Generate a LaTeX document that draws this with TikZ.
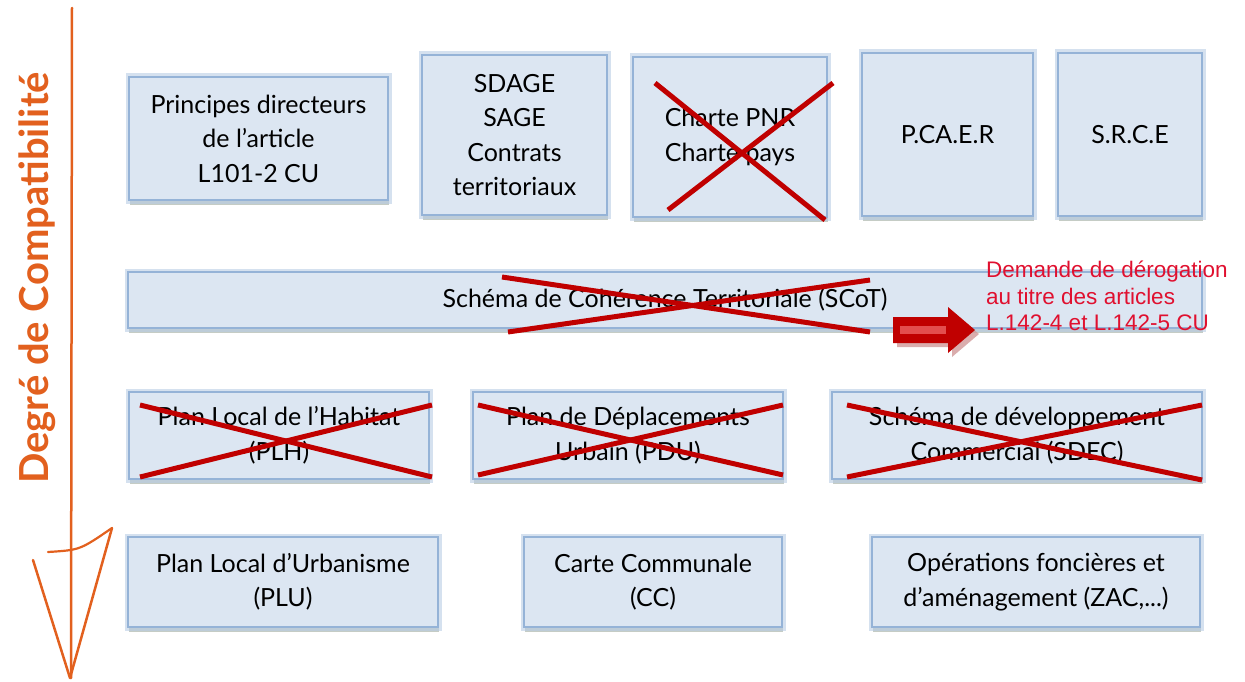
\documentclass[tikz,border=0pt]{standalone}
\usepackage{fontspec}
\setmainfont{Lato}
\newfontfamily\redfont{Liberation Sans}
\usetikzlibrary{shadows}
\definecolor{boxfill}{HTML}{DCE6F2}
\definecolor{bordc}{HTML}{95B3D7}
\definecolor{glowc}{HTML}{B9CDE5}
\definecolor{crossred}{HTML}{C00000}
\definecolor{orangec}{HTML}{E2601E}
\definecolor{notered}{HTML}{E0102F}
\definecolor{shadc}{HTML}{5A6E5A}
\tikzset{
  box/.style={draw=bordc, line width=2.5pt, fill=boxfill, inner sep=0pt, align=center,
    font=\fontsize{25}{34.5}\selectfont,
    drop shadow={shadow xshift=1pt, shadow yshift=-5pt, opacity=0.35, fill=shadc},
    preaction={draw=glowc, line width=7pt, opacity=0.6}},
  cross/.style={draw=crossred, line width=5pt},
}
\begin{document}
\begin{tikzpicture}[x=1pt,y=-1pt]
\useasboundingbox (0,0) rectangle (1245,682);
% left axis
\draw[orangec, line width=2.5pt, line cap=round] (72,8) -- (71,678);
\draw[orangec, line width=2.5pt, line cap=round, line join=round] (33,560) -- (70,678) -- (112,528);
\draw[orangec, line width=2.2pt, line cap=round] (48,552) .. controls (80,550) .. (112,528);
\node[rotate=90, text=orangec, font=\fontsize{40}{40}\selectfont\bfseries] (axis) at (37,278) {Degré de Compatibilité};
% row 1
\node[box, minimum width=259pt, minimum height=123pt] (pr) at (258.5,138.5) {Principes directeurs\\de l'article\\L101-2 CU};
\node[box, minimum width=185pt, minimum height=160pt] (sd) at (514.5,135) {SDAGE\\SAGE\\Contrats\\territoriaux};
\node[box, minimum width=194pt, minimum height=160pt] (ch) at (730,137) {Charte PNR\\Charte pays};
\node[box, minimum width=171pt, minimum height=163pt] (pc) at (947.5,134.5) {P.CA.E.R};
\node[box, minimum width=144pt, minimum height=163pt] (sr) at (1130,134.5) {S.R.C.E};
% row 2
\node[box, minimum width=1074pt, minimum height=56pt] (sc) at (665,300) {Schéma de Cohérence Territoriale (SCoT)};
% row 3
\node[box, minimum width=300pt, minimum height=87pt] (plh) at (279,435.5) {Plan Local de l'Habitat\\(PLH)};
\node[box, minimum width=310pt, minimum height=87pt] (pdu) at (628,435.5) {Plan de Déplacements\\Urbain (PDU)};
\node[box, minimum width=370pt, minimum height=87pt] (sdec) at (1017,435.5) {Schéma de développement\\Commercial (SDEC)};
% row 4
\node[box, minimum width=310pt, minimum height=90pt] (plu) at (283,582) {Plan Local d'Urbanisme\\(PLU)};
\node[box, minimum width=258pt, minimum height=90pt] (cc) at (653,582) {Carte Communale\\(CC)};
\node[box, minimum width=328pt, minimum height=90pt] (op) at (1036,582) {Opérations foncières et\\d'aménagement (ZAC,...)};
% crosses
\draw[cross] (655,83) -- (825,220);
\draw[cross] (833,83) -- (668,210);
\draw[cross] (502,277) -- (870,332);
\draw[cross] (508,332) -- (870,280);
\draw[cross] (140,405) -- (432,477);
\draw[cross] (140,477) -- (432,405);
\draw[cross] (478,405) -- (783,475);
\draw[cross] (478,475) -- (783,405);
\draw[cross] (847,405) -- (1202,480);
\draw[cross] (847,477) -- (1202,405);
% red arrow
\fill[black!45!red!40, opacity=0.8] (897,321) -- (952,321) -- (952,311) -- (979,334) -- (952,357) -- (952,347) -- (897,347) -- cycle;
\fill[crossred] (893,317) -- (948,317) -- (948,307) -- (975,330) -- (948,353) -- (948,343) -- (893,343) -- cycle;
\fill[red!45!white!80!crossred, opacity=0.7] (900,326) -- (946,326) -- (946,334) -- (900,334) -- cycle;
% note
\node[anchor=north west, align=left, text=notered, font=\redfont\fontsize{22.5}{26.5}\selectfont, inner sep=0pt] (note) at (986,261) {Demande de dérogation\\au titre des articles\\L.142-4 et L.142-5 CU};
\end{tikzpicture}
\end{document}
